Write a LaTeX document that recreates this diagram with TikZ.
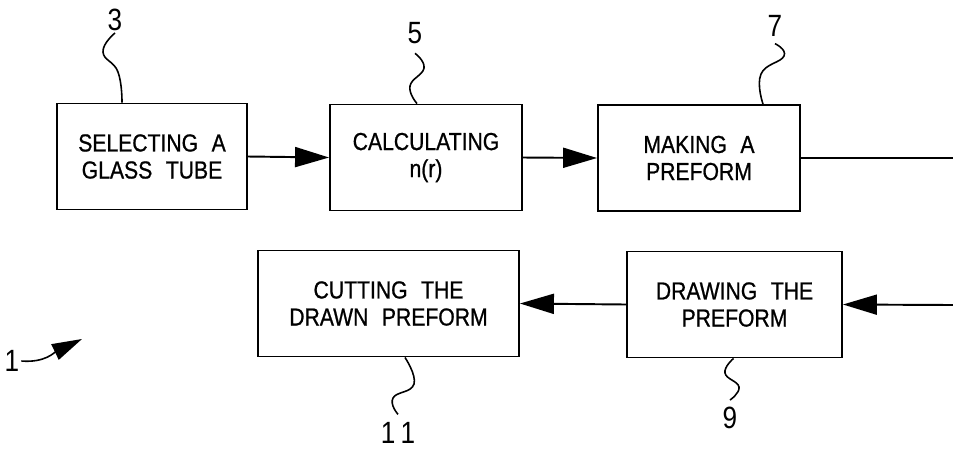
\documentclass[tikz,border=0pt]{standalone}
\usepackage{fontspec}
\setmainfont{Liberation Sans}
\newfontfamily\narrowsans[FakeStretch=0.86, FakeBold=0.8]{Liberation Sans}
\newfontfamily\numsans[FakeStretch=0.85]{Liberation Sans}
\usetikzlibrary{arrows.meta}

\newcommand{\boxfont}{\narrowsans\fontsize{14}{15.4}\selectfont\spaceskip=0.55em\relax}

\tikzset{
    stepbox/.style={draw, line width=1.1pt, minimum height=2.12cm, align=center,
        inner sep=0pt, font=\boxfont},
    flow/.style={line width=1.1pt, -{Triangle[length=0.68cm, width=0.4cm]}},
    refnum/.style={font=\numsans\fontsize{17.5}{17.5}\selectfont, inner sep=1pt},
    leader/.style={line width=0.9pt}
}

\begin{document}
\begin{tikzpicture}[x=0.02cm, y=-0.02cm]

    \useasboundingbox (0,0) rectangle (953,451);

    % top row
    \node[stepbox, minimum width=3.8cm]  (b3) at (152,156.5) {SELECTING A\\GLASS TUBE};
    \node[stepbox, minimum width=3.84cm] (b5) at (426,157.5) {CALCULATING\\n(r)};
    \node[stepbox, minimum width=4.04cm] (b7) at (699,158)   {MAKING A\\PREFORM};

    % bottom row
    \node[stepbox, minimum width=5.22cm] (b11) at (388.5,303.5) {CUTTING THE\\DRAWN PREFORM};
    \node[stepbox, minimum width=4.3cm]  (b9)  at (734.5,304.5) {DRAWING THE\\PREFORM};

    \coordinate (out7) at (953,158);
    \coordinate (in9)  at (953,305);

    \draw[flow] (b3.east) -- (b5.west);
    \draw[flow] (b5.east) -- (b7.west);
    \draw[line width=1.1pt] (b7.east) -- (out7);
    \draw[flow] (in9) -- (b9.east);
    \draw[flow] (b9.west) -- (b11.east);

    % reference numerals
    \node[refnum] (n3)  at (115,20)  {3};
    \node[refnum] (n5)  at (415,33)  {5};
    \node[refnum] (n7)  at (775,26)  {7};
    \node[refnum] (n9)  at (730,418) {9};
    \node[refnum] (n11) at (398,433) {1\,1};
    \node[refnum] (n1)  at (12,361)  {1};

    \draw[leader] plot[smooth, tension=0.8] coordinates
        {(n3.south) (103,52) (118,72) ([xshift=-0.6cm]b3.north)};
    \draw[leader] plot[smooth, tension=0.8] coordinates
        {([yshift=-0.15cm]n5.south) (424,68) (410,86) ([xshift=-0.18cm]b5.north)};
    \draw[leader] plot[smooth, tension=0.8] coordinates
        {([yshift=-0.1cm]n7.south) (784,56) (761,74) ([xshift=1.28cm]b7.north)};
    \draw[leader] plot[smooth, tension=0.8] coordinates
        {([xshift=-0.02cm]b9.south) (725,373) (739,387) ([yshift=0.1cm]n9.north)};
    \draw[leader] plot[smooth, tension=0.8] coordinates
        {([xshift=0.33cm]b11.south) (414,384) (393,398) ([yshift=0.12cm]n11.north)};

    \coordinate (tip1) at (82,339);
    \draw[leader, -{Triangle[length=0.6cm, width=0.34cm]}] (n1.east) .. controls (45,363) and (55,352) .. (tip1);

\end{tikzpicture}
\end{document}
